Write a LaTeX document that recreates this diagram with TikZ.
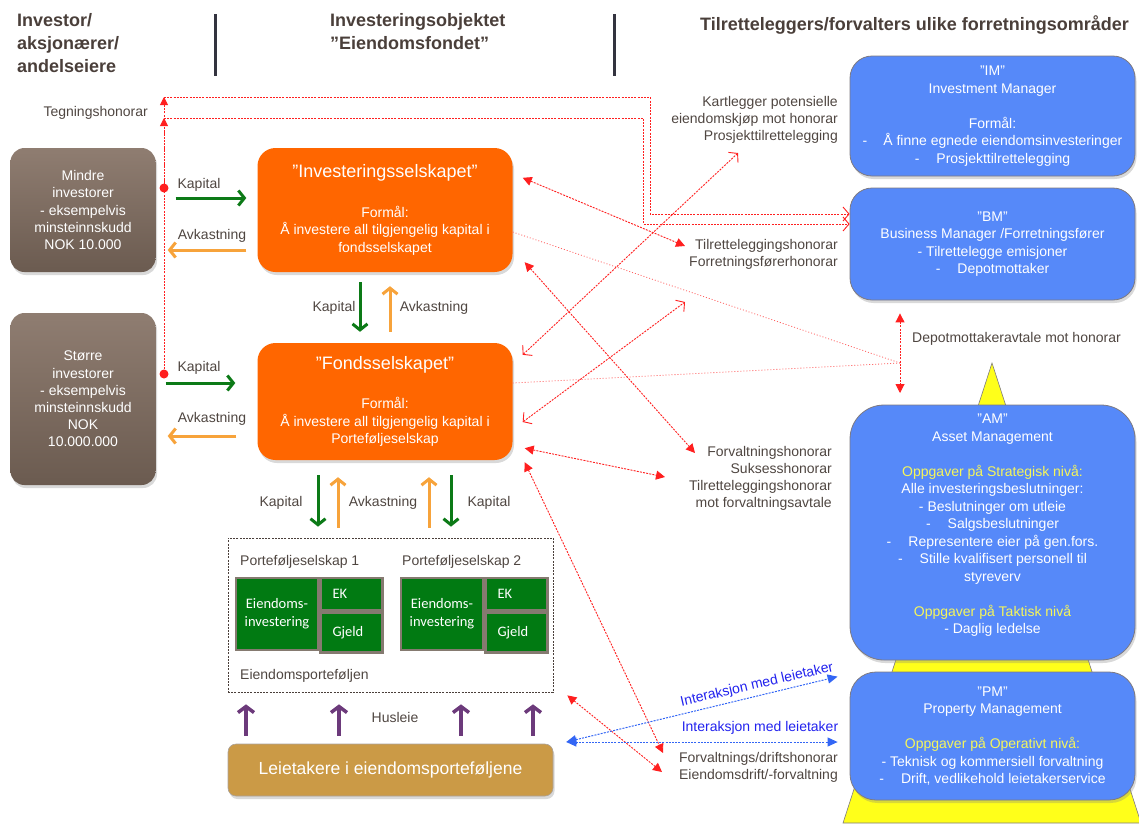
\documentclass[tikz,border=0pt]{standalone}
\usepackage{fontspec}
\setmainfont{Liberation Sans}
\newfontfamily\blockfont{Carlito}
\usetikzlibrary{arrows.meta,positioning,calc,shadows}
\definecolor{headink}{HTML}{4A3F3A}
\definecolor{labelink}{HTML}{4F4641}
\definecolor{barink}{HTML}{33343F}
\definecolor{fundorange}{HTML}{FF6600}
\definecolor{mgrblue}{HTML}{5689F9}
\definecolor{mgrrim}{HTML}{7E7A80}
\definecolor{investtop}{HTML}{8F7D71}
\definecolor{investbot}{HTML}{6B5B50}
\definecolor{capgreen}{HTML}{0C7A17}
\definecolor{retorange}{HTML}{F7A33B}
\definecolor{rentpurple}{HTML}{6C3A7B}
\definecolor{feered}{HTML}{FF1F1F}
\definecolor{tenantgold}{HTML}{CB9A46}
\definecolor{blockgreen}{HTML}{017A12}
\definecolor{blockrim}{HTML}{857A70}
\definecolor{taskyellow}{HTML}{FFFF1A}
\definecolor{taskhead}{HTML}{F6F65A}
\definecolor{linkblue}{HTML}{3366F5}
\definecolor{linktext}{HTML}{2222EE}
\tikzset{
  headtitle/.style={
    anchor=north west,
    align=left,
    inner sep=0pt,
    text=headink,
    font=\fontsize{18}{23}\selectfont\bfseries
  },
  investorbox/.style={
    rounded corners=14pt,
    top color=investtop,
    bottom color=investbot,
    minimum width=145pt,
    text=white,
    align=center,
    font=\fontsize{14}{17.2}\selectfont,
    drop shadow={opacity=0.3,shadow xshift=1.5pt,shadow yshift=-3pt}
  },
  fundbox/.style={
    rounded corners=18pt,
    fill=fundorange,
    minimum width=255pt,
    text=white,
    align=center,
    font=\fontsize{14}{17.5}\selectfont,
    drop shadow={opacity=0.3,shadow xshift=1.5pt,shadow yshift=-3pt}
  },
  mgrbox/.style={
    rounded corners=22pt,
    fill=mgrblue,
    draw=mgrrim,
    line width=0.8pt,
    minimum width=285pt,
    text=white,
    align=center,
    font=\fontsize{14}{17.5}\selectfont,
    drop shadow={opacity=0.3,shadow xshift=1.5pt,shadow yshift=-3pt}
  },
  tenantbox/.style={
    rounded corners=8pt,
    fill=tenantgold,
    draw=blockrim!70,
    line width=0.6pt,
    minimum width=325pt,
    minimum height=52pt,
    text=white,
    font=\fontsize{17.5}{21}\selectfont,
    drop shadow={opacity=0.3,shadow xshift=1.5pt,shadow yshift=-3pt}
  },
  portframe/.style={
    draw=headink,
    line width=0.7pt,
    dash pattern=on 2pt off 1.2pt,
    minimum width=325pt,
    minimum height=154pt
  },
  blockcell/.style={
    fill=blockgreen,
    draw=blockrim,
    line width=2.5pt,
    text=white,
    align=center,
    font=\blockfont\fontsize{14.5}{18}\selectfont
  },
  sidecell/.style={
    blockcell,
    minimum width=62pt,
    text width=38pt,
    inner xsep=12pt,
    align=left
  },
  feelabel/.style={
    align=right,
    inner sep=0pt,
    text=labelink,
    font=\fontsize{14}{17.2}\selectfont
  },
  flowlabel/.style={
    inner sep=0pt,
    text=labelink,
    font=\fontsize{14}{17}\selectfont
  },
  linklabel/.style={
    inner sep=0pt,
    text=linktext,
    font=\fontsize{14}{17}\selectfont
  },
  capflow/.style={draw=capgreen,line width=3pt,-{Straight Barb[length=6pt,width=15pt]}},
  retflow/.style={draw=retorange,line width=3pt,-{Straight Barb[length=6pt,width=15pt]}},
  rentflow/.style={draw=rentpurple,line width=3.5pt,-{Straight Barb[length=6pt,width=16pt]}},
  feeline/.style={draw=feered,line width=0.9pt,dash pattern=on 2pt off 1.2pt},
  feefaint/.style={draw=feered!70,line width=0.8pt,dash pattern=on 1pt off 2pt},
  feesolid/.style={feeline,{Triangle[length=9pt,width=9pt]}-{Triangle[length=9pt,width=9pt]}},
  feeopen/.style={feeline,{Straight Barb[length=6pt,width=14pt]}-{Straight Barb[length=6pt,width=14pt]}},
  feedot/.style={circle,fill=feered,inner sep=0pt,minimum size=9pt},
  tenantlink/.style={draw=linkblue,line width=1pt,dash pattern=on 2pt off 1.2pt,
    {Triangle[length=10pt,width=9pt]}-{Triangle[length=10pt,width=9pt]}}
}
\begin{document}
\begin{tikzpicture}[x=1pt,y=-1pt]
\useasboundingbox (0,0) rectangle (1139,823);
\filldraw[fill=taskyellow,draw=mgrrim,line width=0.6pt] (992,363) -- (1141,823) -- (843,823) -- cycle;

\node[headtitle] (investhead) at (17,13) {Investor/\\aksjonærer/\\andelseiere};
\node[headtitle] (objhead) at (330,13) {Investeringsobjektet\\”Eiendomsfondet”};
\node[headtitle] (mgrhead) at (700,15) {Tilretteleggers/forvalters ulike forretningsområder};
\draw[barink,line width=3pt] (215,14) -- (215,76);
\draw[barink,line width=3pt] (614,14) -- (614,76);

\node[investorbox,minimum height=124pt] (smallinv) at (83,210) {Mindre\\investorer\\- eksempelvis\\minsteinnskudd\\NOK 10.000};
\node[investorbox,minimum height=172pt] (largeinv) at (83,399) {Større\\investorer\\- eksempelvis\\minsteinnskudd\\NOK\\10.000.000};

\node[fundbox,minimum height=124pt] (investco) at (385,210) {{\fontsize{18}{22}\selectfont ”Investeringsselskapet”}\\[22pt]Formål:\\Å investere all tilgjengelig kapital i\\fondsselskapet};
\node[fundbox,minimum height=117pt] (fundco) at (385,401.5) {{\fontsize{18}{22}\selectfont ”Fondsselskapet”}\\[22pt]Formål:\\Å investere all tilgjengelig kapital i\\Porteføljeselskap};

\node[mgrbox,minimum height=120pt] (imbox) at (992.5,116) {"IM"\\Investment Manager\\[17.5pt]Formål:\\-\hspace{16pt}Å finne egnede eiendomsinvesteringer\\-\hspace{17pt}Prosjekttilrettelegging};
\node[mgrbox,minimum height=112pt] (bmbox) at (992.5,244) {"BM"\\Business Manager /Forretningsfører\\- Tilrettelegge emisjoner\\-\hspace{17pt}Depotmottaker};
\node[mgrbox,minimum height=255pt,rounded corners=34pt] (ambox) at (992.5,532.5) {"AM"\\Asset Management\\[17.5pt]\textcolor{taskhead}{Oppgaver på Strategisk nivå:}\\Alle investeringsbeslutninger:\\- Beslutninger om utleie\\-\hspace{17pt}Salgsbeslutninger\\-\hspace{17pt}Representere eier på gen.fors.\\-\hspace{17pt}Stille kvalifisert personell til\\styreverv\\[17.5pt]\textcolor{taskhead}{Oppgaver på Taktisk nivå}\\- Daglig ledelse\\\mbox{}};
\node[mgrbox,minimum height=128pt,rounded corners=26pt] (pmbox) at (992.5,736) {"PM"\\Property Management\\[17.5pt]\textcolor{taskhead}{Oppgaver på Operativt nivå:}\\- Teknisk og kommersiell forvaltning\\-\hspace{17pt}Drift, vedlikehold leietakerservice};

\node[portframe] (portbox) at (390.5,615) {};
\node[flowlabel,anchor=west] (port1label) at (240,562) {Porteføljeselskap 1};
\node[flowlabel,anchor=west] (port2label) at (402,562) {Porteføljeselskap 2};
\node[flowlabel,anchor=west] (portlabel) at (240,676) {Eiendomsporteføljen};
\node[blockcell,minimum width=82pt,minimum height=72pt] (prop1) at (277,614) {Eiendoms-\\investering};
\node[sidecell,minimum height=32pt,below right=0pt and 0pt of prop1.north east] (equity1) {EK};
\node[sidecell,minimum height=40pt,below=0pt of equity1] (debt1) {Gjeld};
\node[blockcell,minimum width=82pt,minimum height=72pt] (prop2) at (442,614) {Eiendoms-\\investering};
\node[sidecell,minimum height=32pt,below right=0pt and 0pt of prop2.north east] (equity2) {EK};
\node[sidecell,minimum height=40pt,below=0pt of equity2] (debt2) {Gjeld};

\node[tenantbox] (tenants) at (390.5,770) {Leietakere i eiendomsporteføljene};

\node[flowlabel] (capin1) at (199,185) {Kapital};
\node[flowlabel] (retout1) at (212,236) {Avkastning};
\node[flowlabel] (capin2) at (199,368) {Kapital};
\node[flowlabel] (retout2) at (212,419) {Avkastning};
\node[flowlabel] (capdown) at (334,308) {Kapital};
\node[flowlabel] (retup) at (434,308) {Avkastning};
\node[flowlabel] (capport1) at (281,503) {Kapital};
\node[flowlabel] (retport) at (383,503) {Avkastning};
\node[flowlabel] (capport2) at (489,503) {Kapital};
\node[flowlabel] (rentlabel) at (395,717) {Husleie};

\node[feelabel,anchor=east] (subfee) at (148,113) {Tegningshonorar};
\node[feelabel,anchor=north east] (scoutfee) at (838,96) {Kartlegger potensielle\\eiendomskjøp mot honorar\\Prosjekttilrettelegging};
\node[feelabel,anchor=north east] (setupfee) at (838,239) {Tilretteleggingshonorar\\Forretningsførerhonorar};
\node[feelabel,anchor=north east] (mgmtfee) at (832,446) {Forvaltningshonorar\\Suksesshonorar\\Tilretteleggingshonorar\\mot forvaltningsavtale};
\node[feelabel,anchor=north east] (opsfee) at (838,752) {Forvaltnings/driftshonorar\\Eiendomsdrift/-forvaltning};
\node[feelabel,anchor=west] (depotfee) at (912,339) {Depotmottakeravtale mot honorar};
\node[linklabel] (talkflat) at (760,728) {Interaksjon med leietaker};
\node[linklabel,rotate=13] (talkslope) at (757,685) {Interaksjon med leietaker};

\draw[capflow] ($(smallinv.east)+(20,-12)$) -- ($(investco.west)+(-11,-12)$);
\draw[retflow] ($(investco.west)+(-11,40)$) -- ($(smallinv.east)+(12,40)$);
\draw[capflow] ($(largeinv.east)+(10,-16)$) -- ($(fundco.west)+(-22,-18.5)$);
\draw[retflow] ($(fundco.west)+(-21,34.5)$) -- ($(largeinv.east)+(12,37)$);
\draw[capflow] ($(investco.south)+(-25,10)$) -- ($(fundco.north)+(-25,-11)$);
\draw[retflow] ($(fundco.north)+(5,-11)$) -- ($(investco.south)+(5,14)$);
\draw[capflow] ($(fundco.south)+(-67,15)$) -- ($(portbox.north)+(-72.5,-11)$);
\draw[retflow] ($(portbox.north)+(-52.5,-10)$) -- ($(fundco.south)+(-47,17)$);
\draw[retflow] ($(portbox.north)+(38.5,-10)$) -- ($(fundco.south)+(44,17)$);
\draw[capflow] ($(fundco.south)+(66,15)$) -- ($(portbox.north)+(60.5,-11)$);
\draw[rentflow] ($(tenants.north)+(-144.5,-8)$) -- ($(portbox.south)+(-144.5,12)$);
\draw[rentflow] ($(tenants.north)+(-51.5,-8)$) -- ($(portbox.south)+(-51.5,12)$);
\draw[rentflow] ($(tenants.north)+(70.5,-8)$) -- ($(portbox.south)+(70.5,12)$);
\draw[rentflow] ($(tenants.north)+(142.5,-8)$) -- ($(portbox.south)+(142.5,12)$);

\node[feedot] (dotsmall) at (164,188) {};
\node[feedot] (dotlarge) at (164,374) {};
\coordinate (subtop) at (164,97);
\coordinate (submid) at (164,118);
\draw[feeline,-{Triangle[length=8pt,width=8pt]}] (dotlarge) -- (subtop);
\draw[feeline,-{Triangle[length=8pt,width=8pt]}] (dotsmall) -- (submid);
\draw[feeline,-{Straight Barb[length=6pt,width=14pt]}] (subtop) -- (650,97) |- ($(bmbox.west)+(0,-30)$);
\draw[feeline,-{Straight Barb[length=6pt,width=14pt]}] (submid) -- (643,118) |- ($(bmbox.west)+(0,-20)$);

\coordinate (depottop) at ($(bmbox.south)+(-92.5,13)$);
\coordinate (depotbot) at (900,393);
\coordinate (depotjoin) at (900,363);
\draw[feesolid] (depottop) -- (depotbot);
\draw[feefaint] ($(investco.east)+(0,22)$) -- (depotjoin);
\draw[feefaint] ($(fundco.east)+(0,-18.5)$) -- (depotjoin);

\coordinate (scouttip) at (738,153);
\coordinate (setuptip) at (685,246);
\coordinate (setuptip2) at (685,302);
\coordinate (mgmttip) at (695,453);
\coordinate (mgmttip2) at (665,477);
\coordinate (opstip) at (663,753);
\coordinate (opstip2) at (662,772);
\draw[feesolid] ($(investco.north east)+(10,30)$) -- (setuptip);
\draw[feeopen] ($(fundco.north east)+(10,12)$) -- (scouttip);
\draw[feeopen] ($(fundco.east)+(10,20.5)$) -- (setuptip2);
\draw[feesolid] ($(investco.south east)+(12,-10)$) -- (mgmttip);
\draw[feesolid] ($(fundco.south east)+(12,-12)$) -- (mgmttip2);
\draw[feesolid] ($(fundco.south east)+(12,2)$) -- (opstip);
\draw[feesolid] ($(portbox.south east)+(14,3)$) -- (opstip2);

\coordinate (tenanttip) at ($(tenants.east)+(13,-28)$);
\draw[tenantlink] (tenanttip) -- ($(pmbox.west)+(-12,6)$);
\draw[tenantlink] (tenanttip) -- ($(pmbox.north west)+(-12,5)$);
\end{tikzpicture}
\end{document}
